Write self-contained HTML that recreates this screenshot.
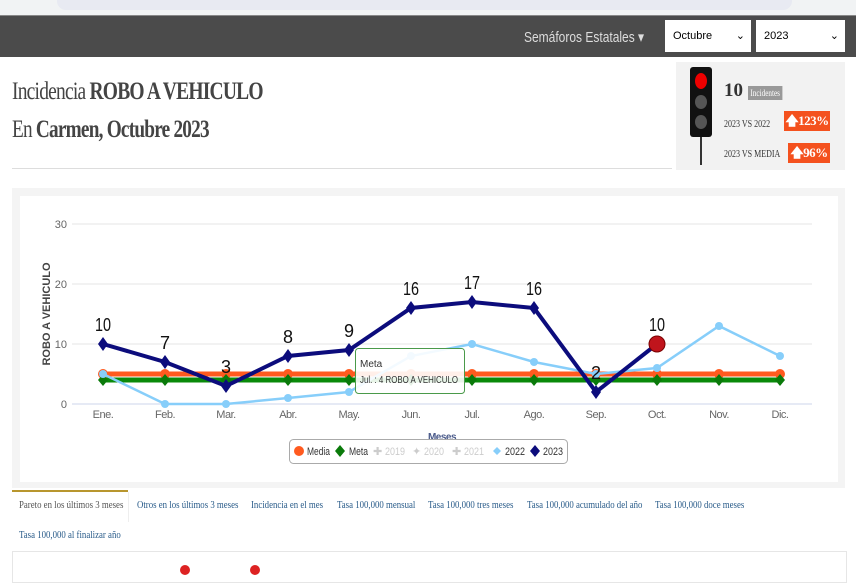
<!DOCTYPE html>
<html><head><meta charset="utf-8"><style>
body{margin:0;width:856px;height:570px;overflow:hidden;background:#fff;font-family:"Liberation Serif",serif;position:relative}
.abs{position:absolute}
.sx{transform-origin:0 0;white-space:nowrap}
.t{transform:scaleX(0.88)}
</style></head><body>
<div class="abs" style="left:0;top:0;width:856px;height:15px;background:#f1f3f4"></div>
<div class="abs" style="left:57px;top:-8px;width:735px;height:18px;background:#e8eaf2;border-radius:9px"></div>
<div class="abs" style="left:0;top:15px;width:856px;height:41px;background:#4b4b4b;border-top:1px solid #888"></div>
<div class="abs sx" style="left:524px;top:28px;color:#ddd;font-family:'Liberation Sans',sans-serif;font-size:15px;transform:scaleX(0.8)">Semáforos Estatales ▾</div>
<div class="abs" style="left:665px;top:20px;width:86px;height:32px;background:#fff;font-family:'Liberation Sans',sans-serif;font-size:11px;line-height:32px;padding-left:8px;box-sizing:border-box">Octubre<span style="position:absolute;right:6px">⌄</span></div>
<div class="abs" style="left:756px;top:20px;width:89px;height:32px;background:#fff;font-family:'Liberation Sans',sans-serif;font-size:11px;line-height:32px;padding-left:8px;box-sizing:border-box">2023<span style="position:absolute;right:6px">⌄</span></div>
<div class="abs sx" style="left:12px;top:78px;font-size:25px;color:#444;letter-spacing:-1px;transform:scaleX(0.78)">Incidencia <b>ROBO A VEHICULO</b></div>
<div class="abs sx" style="left:12px;top:116px;font-size:25px;color:#444;letter-spacing:-1px;transform:scaleX(0.77)">En <b>Carmen, Octubre 2023</b></div>
<div class="abs" style="left:12px;top:168px;width:660px;height:1px;background:#ddd"></div>
<div class="abs" style="left:676px;top:62px;width:169px;height:108px;background:#f2f2f2"></div>
<div class="abs" style="left:690px;top:67px;width:22px;height:70px;background:#111;border-radius:3px"></div>
<div class="abs" style="left:695px;top:73px;width:12px;height:16px;background:#e00;border-radius:50%"></div>
<div class="abs" style="left:695px;top:95px;width:12px;height:14px;background:#555;border-radius:50%"></div>
<div class="abs" style="left:695px;top:115px;width:12px;height:14px;background:#555;border-radius:50%"></div>
<div class="abs" style="left:700px;top:137px;width:2px;height:28px;background:#333"></div>
<div class="abs" style="left:724px;top:80px;font-size:19px;font-weight:bold;color:#333">10</div>
<div class="abs sx" style="left:748px;top:86px;background:#999;color:#fff;font-size:9px;padding:2px 3px;transform:scaleX(0.8)">Incidentes</div>
<div class="abs sx" style="left:724px;top:119px;font-size:10px;color:#333;transform:scaleX(0.8)">2023 VS 2022</div>
<div class="abs" style="left:784px;top:111px;width:46px;height:20px;background:#f4511e;color:#fff;font-size:13px;font-weight:bold;line-height:20px;text-align:center;letter-spacing:-0.5px">🡅123%</div>
<div class="abs sx" style="left:724px;top:149px;font-size:10px;color:#333;transform:scaleX(0.8)">2023 VS MEDIA</div>
<div class="abs" style="left:788px;top:143px;width:42px;height:20px;background:#f4511e;color:#fff;font-size:13px;font-weight:bold;line-height:20px;text-align:center;letter-spacing:-0.5px">🡅96%</div>
<div class="abs" style="left:12px;top:188px;width:833px;height:300px;background:#f4f4f4"></div>
<div class="abs" style="left:20px;top:196px;width:818px;height:286px;background:#fff"></div>
<svg class="abs" style="left:0;top:0" width="856" height="570" font-family="Liberation Sans, sans-serif">
<g stroke="#e6e6e6" stroke-width="1"><line x1="72" y1="224" x2="812" y2="224"/><line x1="72" y1="284" x2="812" y2="284"/><line x1="72" y1="344" x2="812" y2="344"/></g>
<line x1="72" y1="404" x2="812" y2="404" stroke="#ccd6eb"/>
<g fill="#666" font-size="11" text-anchor="end"><text x="67" y="228">30</text><text x="67" y="288">20</text><text x="67" y="348">10</text><text x="67" y="408">0</text></g>
<g fill="#666" font-size="11" text-anchor="middle" letter-spacing="-0.5">
<text x="103" y="418">Ene.</text><text x="165" y="418">Feb.</text><text x="226" y="418">Mar.</text><text x="288" y="418">Abr.</text><text x="349" y="418">May.</text><text x="411" y="418">Jun.</text><text x="472" y="418">Jul.</text><text x="534" y="418">Ago.</text><text x="596" y="418">Sep.</text><text x="657" y="418">Oct.</text><text x="719" y="418">Nov.</text><text x="780" y="418">Dic.</text></g>
<text x="50" y="314" transform="rotate(-90 50 314)" font-size="11" font-weight="bold" fill="#444" text-anchor="middle">ROBO A VEHICULO</text>
<text x="442" y="440" font-size="10" fill="#4a5a8a" text-anchor="middle" font-weight="bold" letter-spacing="-0.5">Meses</text>
<polyline fill="none" stroke="#ff5a1f" stroke-width="5" points="103,374 780,374"/>
<g fill="#ff5a1f"><circle cx="103" cy="374" r="5"/><circle cx="165" cy="374" r="5"/><circle cx="226" cy="374" r="5"/><circle cx="288" cy="374" r="5"/><circle cx="349" cy="374" r="5"/><circle cx="411" cy="374" r="5"/><circle cx="472" cy="374" r="5"/><circle cx="534" cy="374" r="5"/><circle cx="596" cy="374" r="5"/><circle cx="657" cy="374" r="5"/><circle cx="719" cy="374" r="5"/><circle cx="780" cy="374" r="5"/></g>
<polyline fill="none" stroke="#0a8a0a" stroke-width="5" points="103,380 780,380"/>
<g fill="#0a7a0a"><path d="M103 374l5 6-5 6-5-6z M165 374l5 6-5 6-5-6z M226 374l5 6-5 6-5-6z M288 374l5 6-5 6-5-6z M349 374l5 6-5 6-5-6z M411 374l5 6-5 6-5-6z M472 374l5 6-5 6-5-6z M534 374l5 6-5 6-5-6z M596 374l5 6-5 6-5-6z M657 374l5 6-5 6-5-6z M719 374l5 6-5 6-5-6z M780 374l5 6-5 6-5-6z"/></g>
<polyline fill="none" stroke="#87cefa" stroke-width="2.5" points="103,374 165,404 226,404 288,398 349,392 411,356 472,344 534,362 596,374 657,368 719,326 780,356"/>
<g fill="#87cefa"><circle cx="103" cy="374" r="4"/><circle cx="165" cy="404" r="4"/><circle cx="226" cy="404" r="4"/><circle cx="288" cy="398" r="4"/><circle cx="349" cy="392" r="4"/><circle cx="411" cy="356" r="4"/><circle cx="472" cy="344" r="4"/><circle cx="534" cy="362" r="4"/><circle cx="596" cy="374" r="4"/><circle cx="657" cy="368" r="4"/><circle cx="719" cy="326" r="4"/><circle cx="780" cy="356" r="4"/></g>
<polyline fill="none" stroke="#0c0c7c" stroke-width="4" points="103,344 165,362 226,386 288,356 349,350 411,308 472,302 534,308 596,392 657,344"/>
<g fill="#0c0c7c"><path d="M103 337l5 7-5 7-5-7z M165 355l5 7-5 7-5-7z M226 379l5 7-5 7-5-7z M288 349l5 7-5 7-5-7z M349 343l5 7-5 7-5-7z M411 301l5 7-5 7-5-7z M472 295l5 7-5 7-5-7z M534 301l5 7-5 7-5-7z M596 385l5 7-5 7-5-7z"/></g>
<circle cx="657" cy="344" r="8" fill="#c0141c" stroke="#7a0000" stroke-width="1"/>
<g font-size="18" fill="#111" text-anchor="middle">
<text x="103" y="331" textLength="16" lengthAdjust="spacingAndGlyphs">10</text><text x="165" y="349">7</text><text x="226" y="373">3</text><text x="288" y="343">8</text><text x="349" y="337">9</text><text x="411" y="295" textLength="16" lengthAdjust="spacingAndGlyphs">16</text><text x="472" y="289" textLength="16" lengthAdjust="spacingAndGlyphs">17</text><text x="534" y="295" textLength="16" lengthAdjust="spacingAndGlyphs">16</text><text x="596" y="379">2</text><text x="657" y="331" textLength="16" lengthAdjust="spacingAndGlyphs">10</text></g>
<rect x="355.5" y="348.5" width="109" height="45" rx="3" fill="#fff" fill-opacity="0.9" stroke="#4a9a4a"/>
<text x="360" y="367" font-size="10" fill="#333">Meta</text>
<text x="360" y="383" font-size="10" fill="#333" textLength="98" lengthAdjust="spacingAndGlyphs">Jul. : 4 ROBO A VEHICULO</text>
<rect x="289.5" y="439.5" width="278" height="24" rx="4" fill="#fff" stroke="#aaa"/>
<g font-size="11">
<circle cx="299" cy="451" r="5" fill="#ff5a1f"/><text x="307" y="455" fill="#333" textLength="23" lengthAdjust="spacingAndGlyphs">Media</text>
<path d="M340 445l5 6-5 6-5-6z" fill="#0a7a0a"/><text x="349" y="455" fill="#333" textLength="19" lengthAdjust="spacingAndGlyphs">Meta</text>
<text x="373" y="455" fill="#ccc">✚</text><text x="385" y="455" fill="#ccc" textLength="20" lengthAdjust="spacingAndGlyphs">2019</text>
<text x="412" y="455" fill="#ccc">✦</text><text x="424" y="455" fill="#ccc" textLength="20" lengthAdjust="spacingAndGlyphs">2020</text>
<text x="452" y="455" fill="#ccc">✚</text><text x="464" y="455" fill="#ccc" textLength="20" lengthAdjust="spacingAndGlyphs">2021</text>
<path d="M497 447l4 4-4 4-4-4z" fill="#87cefa"/><text x="505" y="455" fill="#333" textLength="20" lengthAdjust="spacingAndGlyphs">2022</text>
<path d="M535 445l5 6-5 6-5-6z" fill="#0c0c7c"/><text x="543" y="455" fill="#333" textLength="20" lengthAdjust="spacingAndGlyphs">2023</text></g>
</svg>
<div class="abs" style="left:12px;top:490px;width:116px;height:2px;background:#b8962e"></div>
<div class="abs" style="left:12px;top:492px;width:116px;height:30px;background:#fff;border-right:1px solid #eee"></div>
<div class="abs" style="top:500px;left:0;font-size:10px;color:#2a5c8a;white-space:nowrap">
<span class="abs sx t" style="left:19px;color:#555">Pareto en los últimos 3 meses</span>
<span class="abs sx t" style="left:137px">Otros en los últimos 3 meses</span>
<span class="abs sx t" style="left:251px">Incidencia en el mes</span>
<span class="abs sx t" style="left:337px">Tasa 100,000 mensual</span>
<span class="abs sx t" style="left:428px">Tasa 100,000 tres meses</span>
<span class="abs sx t" style="left:527px">Tasa 100,000 acumulado del año</span>
<span class="abs sx t" style="left:655px">Tasa 100,000 doce meses</span>
</div>
<div class="abs sx t" style="top:530px;left:19px;font-size:10px;color:#2a5c8a">Tasa 100,000 al finalizar año</div>
<div class="abs" style="left:12px;top:551px;width:833px;height:30px;border:1px solid #e6e6e6"></div>
<div class="abs" style="left:180px;top:565px;width:10px;height:10px;background:#d22;border-radius:50%"></div>
<div class="abs" style="left:250px;top:565px;width:10px;height:10px;background:#d22;border-radius:50%"></div>
</body></html>
